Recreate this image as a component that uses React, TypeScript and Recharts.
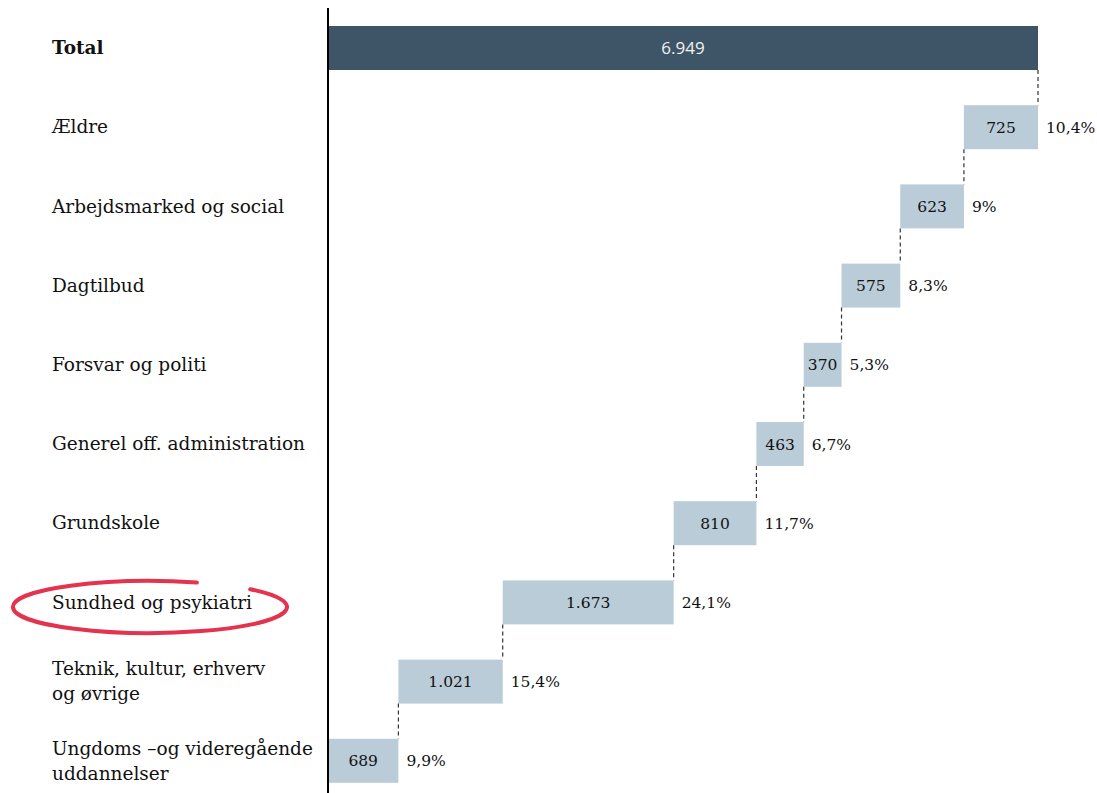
import React from 'react';
import { BarChart, Bar, XAxis, YAxis, LabelList, Cell } from 'recharts';

const categories = [
  'Total',
  'Ældre',
  'Arbejdsmarked og social',
  'Dagtilbud',
  'Forsvar og politi',
  'Generel off. administration',
  'Grundskole',
  'Sundhed og psykiatri',
  'Teknik, kultur, erhverv\nog øvrige',
  'Ungdoms –og videregående\nuddannelser',
];
const values = [6949, 725, 623, 575, 370, 463, 810, 1673, 1021, 689];
const valueLabels = ['6.949', '725', '623', '575', '370', '463', '810', '1.673', '1.021', '689'];
const shareLabels = ['', '10,4%', '9%', '8,3%', '5,3%', '6,7%', '11,7%', '24,1%', '15,4%', '9,9%'];
const highlighted = 'Sundhed og psykiatri';

const TOTAL_COLOR = '#3d5566';
const STEP_COLOR = '#b9ccd8';
const SERIF = '"DejaVu Serif", Georgia, serif';

const W = 1097;
const H = 800;
const MARGIN = { top: 8, right: 59, bottom: 0, left: 0 };
const Y_AXIS_W = 328;
const BAR_SIZE = 44;
const BAND = (H - MARGIN.top - MARGIN.bottom) / categories.length;
const GAP = BAND - BAR_SIZE;

// waterfall bases: each step sits on top of the sum of the steps below it
const data = categories.map((name, i) => {
  let base = 0;
  if (i > 0) {
    for (let j = i + 1; j < values.length; j++) base += values[j];
  }
  return { name, base, value: values[i], idx: i };
});

function CategoryTick(props: any) {
  const { y, payload } = props;
  const label = String(payload.value);
  const lines = label.split('\n');
  const isTotal = label === 'Total';
  const lh = 25;
  const startY = y - ((lines.length - 1) * lh) / 2;
  let ellipse = null;
  if (label === highlighted) {
    const cx = 150;
    const cy = y + 5;
    const rx = 137;
    const ry = 26;
    const t1 = (-43 * Math.PI) / 180;
    const t2 = (-70 * Math.PI) / 180;
    const p1 = [cx + rx * Math.cos(t1), cy + ry * Math.sin(t1)];
    const p2 = [cx + rx * Math.cos(t2), cy + ry * Math.sin(t2)];
    ellipse = (
      <path
        d={`M ${p1[0]} ${p1[1]} A ${rx} ${ry} 0 1 1 ${p2[0]} ${p2[1]}`}
        fill="none"
        stroke="#e3334e"
        strokeWidth={4}
        strokeLinecap="round"
      />
    );
  }
  return (
    <g>
      {ellipse}
      <text
        x={52}
        y={startY}
        fontFamily={SERIF}
        fontSize={18.5}
        fontWeight={isTotal ? 'bold' : 'normal'}
        fill="#111"
        textAnchor="start"
      >
        {lines.map((l, i) => (
          <tspan key={i} x={52} y={startY + i * lh} dy="0.36em">
            {l}
          </tspan>
        ))}
      </text>
    </g>
  );
}

function WaterfallBar(props: any) {
  const { x, y, width, height, index } = props;
  const fill = index === 0 ? TOTAL_COLOR : STEP_COLOR;
  let connector = null;
  if (index < categories.length - 1) {
    const cx = index === 0 ? x + width : x;
    connector = (
      <line
        x1={cx}
        x2={cx}
        y1={y + height}
        y2={y + height + GAP}
        stroke="#333"
        strokeWidth={1.2}
        strokeDasharray="4 3"
      />
    );
  }
  return (
    <g>
      <rect x={x} y={y} width={width} height={height} fill={fill} />
      {connector}
    </g>
  );
}

function ValueLabel(props: any) {
  const { x, y, width, height, index } = props;
  const isTotal = index === 0;
  return (
    <text
      x={x + width / 2}
      y={y + height / 2}
      dy="0.36em"
      textAnchor="middle"
      fontFamily={isTotal ? '"Open Sans", sans-serif' : SERIF}
      fontSize={isTotal ? 17 : 15.5}
      fill={isTotal ? '#f2f2f2' : '#111'}
    >
      {valueLabels[index]}
    </text>
  );
}

function ShareLabel(props: any) {
  const { x, y, width, height, index } = props;
  if (!shareLabels[index]) return null;
  return (
    <text
      x={x + width + 8}
      y={y + height / 2}
      dy="0.36em"
      textAnchor="start"
      fontFamily={SERIF}
      fontSize={15.5}
      fill="#111"
    >
      {shareLabels[index]}
    </text>
  );
}

export default function App() {
  return (
    <div style={{ position: 'absolute', left: 0, top: 0, width: W, height: H, background: '#fff' }}>
      <BarChart
        width={W}
        height={H}
        data={data}
        layout="vertical"
        margin={MARGIN}
        barSize={BAR_SIZE}
      >
        <XAxis type="number" hide domain={[0, values[0]]} />
        <YAxis
          type="category"
          dataKey="name"
          width={Y_AXIS_W}
          axisLine={{ stroke: '#000', strokeWidth: 2 }}
          tickLine={false}
          interval={0}
          tick={<CategoryTick />}
        />
        <Bar dataKey="base" stackId="w" fill="transparent" isAnimationActive={false} />
        <Bar
          dataKey="value"
          stackId="w"
          isAnimationActive={false}
          shape={(p: any) => <WaterfallBar {...p} />}
        >
          {data.map((d) => (
            <Cell key={d.name} fill={d.idx === 0 ? TOTAL_COLOR : STEP_COLOR} />
          ))}
          <LabelList dataKey="value" content={(p: any) => <ValueLabel {...p} />} />
          <LabelList dataKey="value" content={(p: any) => <ShareLabel {...p} />} />
        </Bar>
      </BarChart>
    </div>
  );
}
